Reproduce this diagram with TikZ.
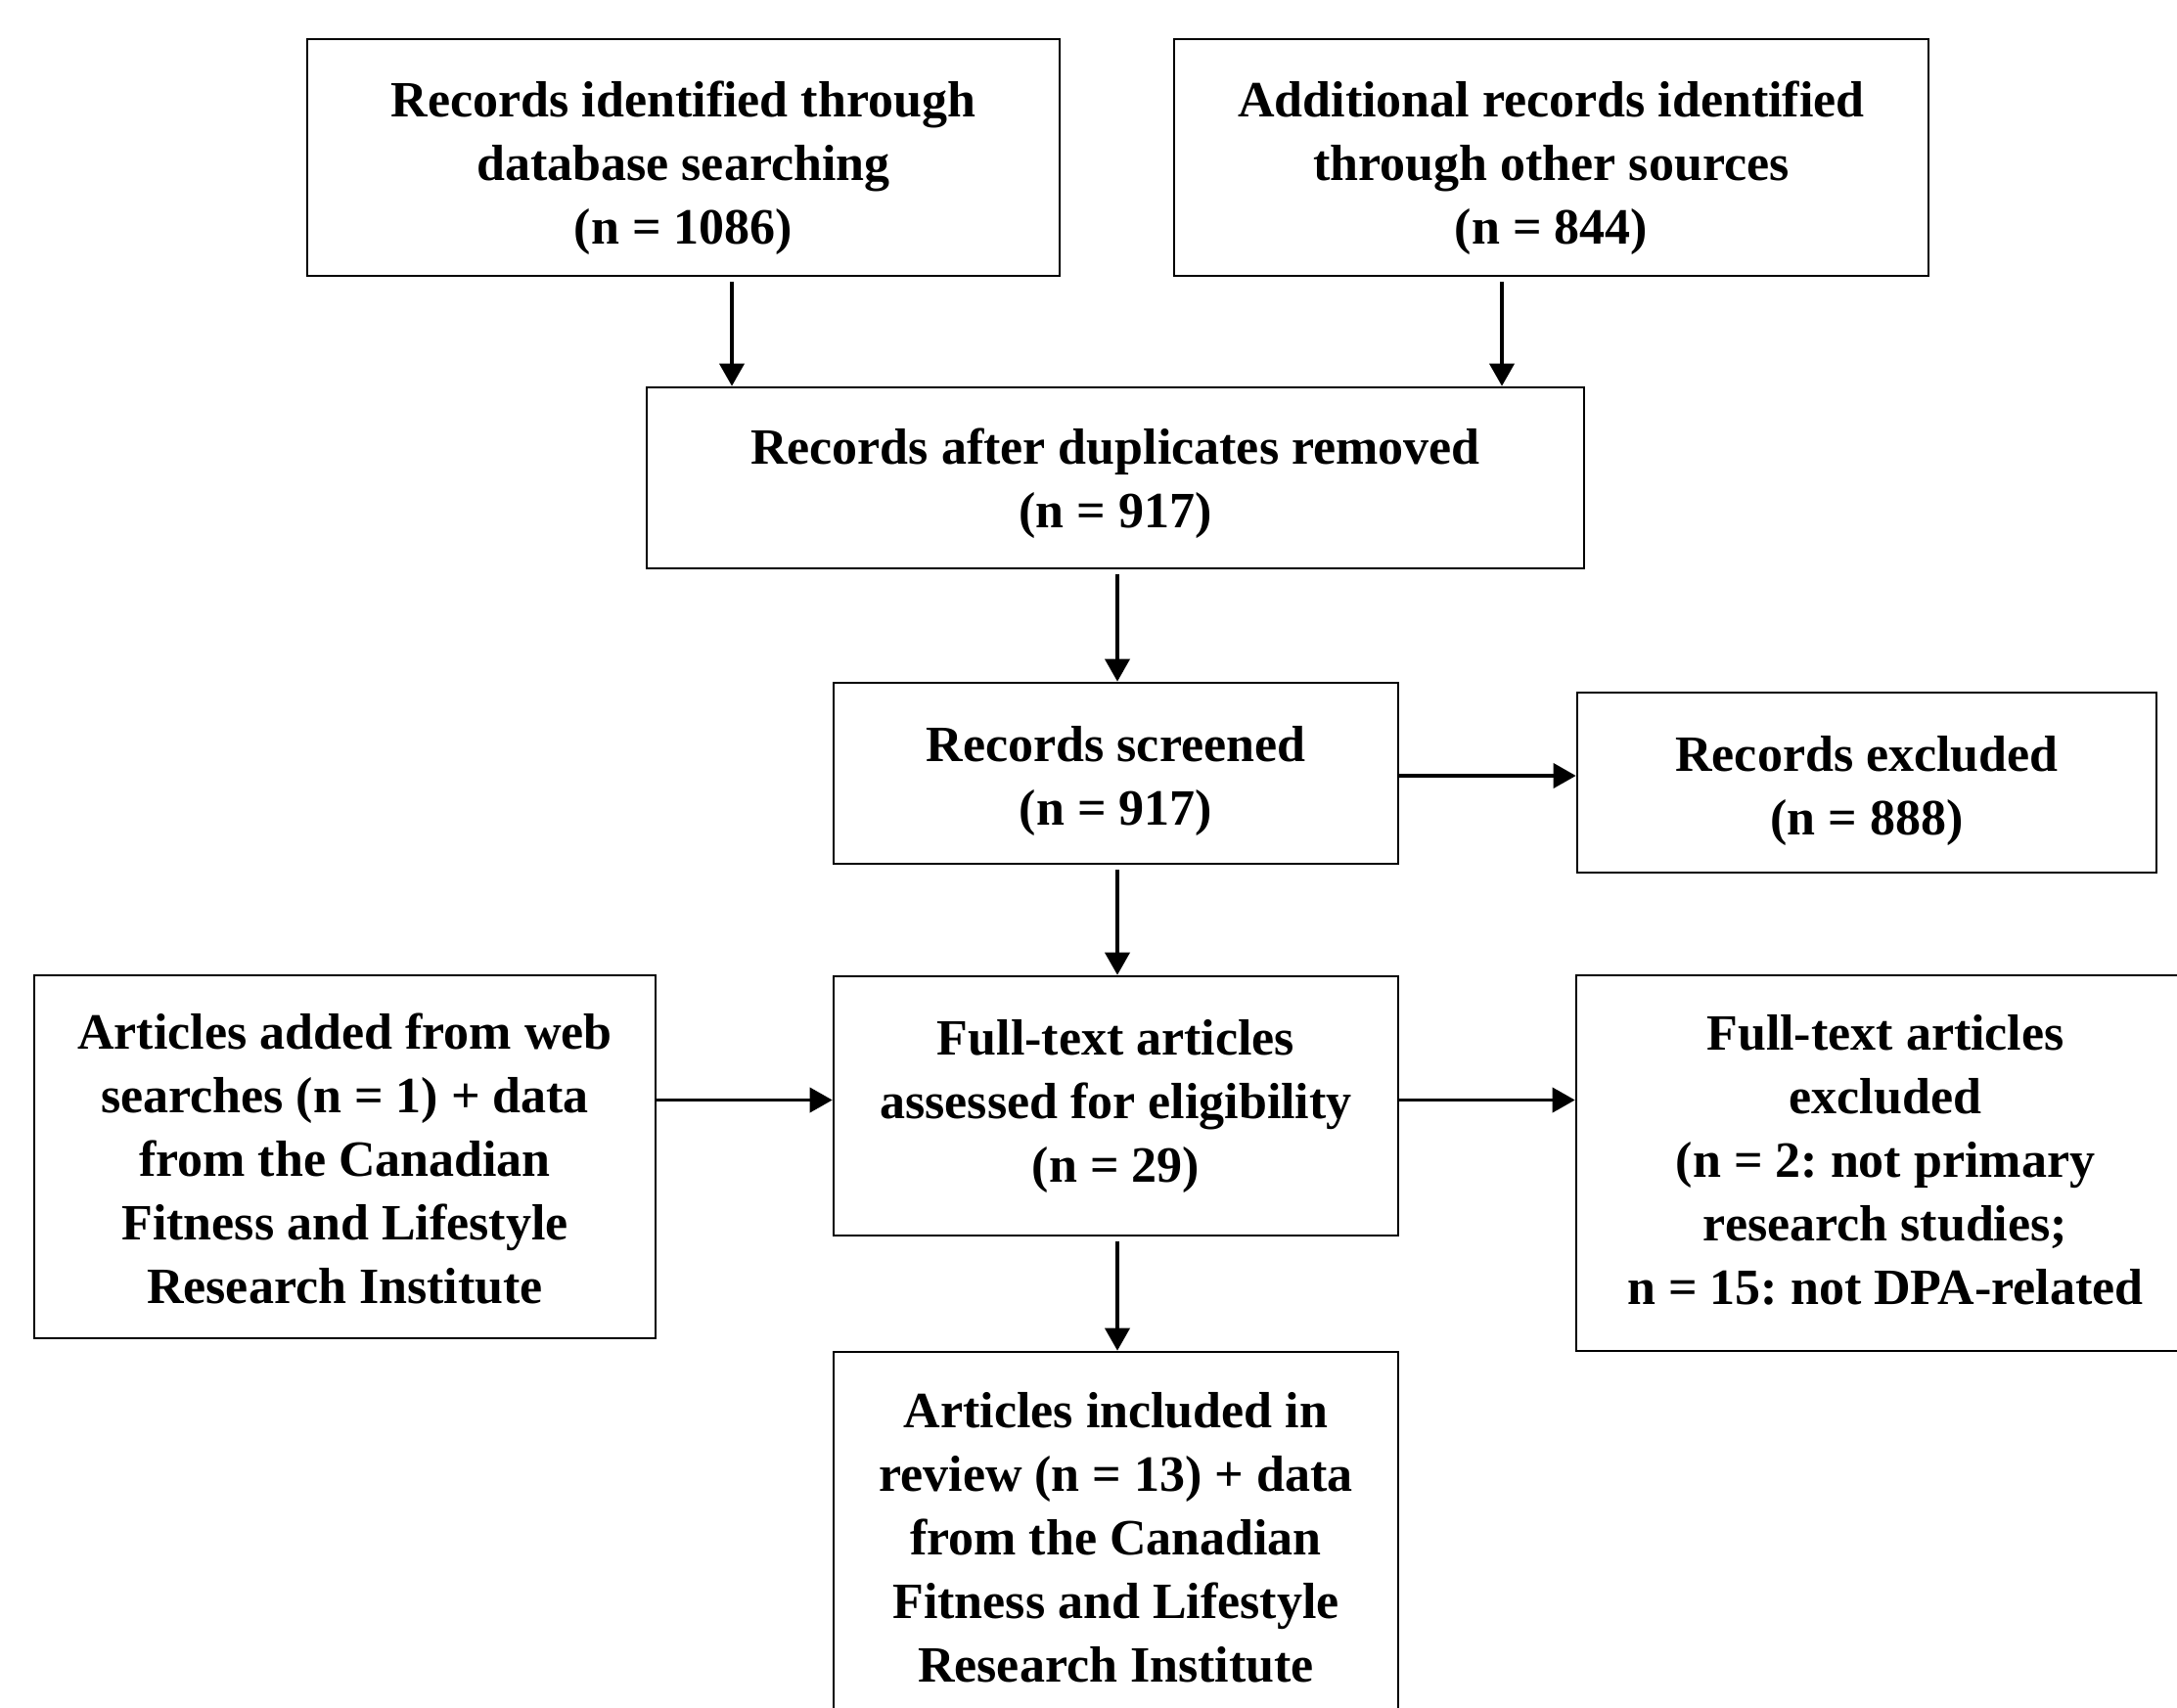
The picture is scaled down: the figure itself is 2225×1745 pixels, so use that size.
\documentclass[tikz,border=0pt]{standalone}
\usepackage{fontspec}
\setmainfont{Liberation Serif}
\usetikzlibrary{arrows.meta}
\frenchspacing
\newcommand{\lowerby}[2]{\raisebox{-#1}[\height][\depth]{\begin{tabular}{@{}c@{}}#2\end{tabular}}}
\begin{document}
\begin{tikzpicture}[x=0.5pt,y=-0.5pt,
  box/.style={draw=black, line width=1.3pt, inner sep=0pt, align=center,
    font=\fontsize{26pt}{32.5pt}\selectfont\bfseries\frenchspacing},
  arr/.style={line width=1.9pt, -{Triangle[length=11.5pt,width=12.5pt]}}]
\useasboundingbox (0,0) rectangle (2225,1745);
\clip (0,0) rectangle (2225,1745);
\fill[white] (0,0) rectangle (2225,1745);

\node[box, minimum width=384.5pt, minimum height=121pt] (b1) at (698.5,161)
  {\lowerby{5.3pt}{Records identified through\\database searching\\(n = 1086)}};
\node[box, minimum width=385.5pt, minimum height=121pt] (b2) at (1585.5,161)
  {\lowerby{5.3pt}{Additional records identified\\through other sources\\(n = 844)}};
\node[box, minimum width=479pt, minimum height=92.5pt] (b3) at (1140,488.5)
  {\lowerby{2.8pt}{Records after duplicates removed\\(n = 917)}};
\node[box, minimum width=288.5pt, minimum height=92.5pt] (b4) at (1140.5,790.5)
  {\lowerby{3.9pt}{Records screened\\(n = 917)}};
\node[box, minimum width=296pt, minimum height=92pt] (b5) at (1908,800)
  {\lowerby{4.2pt}{Records excluded\\(n = 888)}};
\node[box, minimum width=288.5pt, minimum height=132.5pt] (b6) at (1140.5,1130.5)
  {\lowerby{0pt}{Full-text articles\\assessed for eligibility\\(n = 29)}};
\node[box, minimum width=317.5pt, minimum height=185.5pt] (b7) at (352.5,1182.5)
  {\lowerby{3.5pt}{Articles added from web\\searches (n = 1) + data\\from the Canadian\\Fitness and Lifestyle\\Research Institute}};
\node[box, minimum width=316pt, minimum height=192pt] (b8) at (1927,1189)
  {\lowerby{0.7pt}{Full-text articles\\excluded\\(n = 2: not primary\\research studies;\\n = 15: not DPA-related}};
\node[box, minimum width=288.5pt, minimum height=192pt] (b9) at (1140.5,1574)
  {\lowerby{1.3pt}{Articles included in\\review (n = 13) + data\\from the Canadian\\Fitness and Lifestyle\\Research Institute}};

\draw[arr] ([xshift=24.75pt,yshift=-2.5pt]b1.south) -- ([xshift=24.75pt]b1.south |- b3.north);
\draw[arr] ([xshift=-25.25pt,yshift=-2.5pt]b2.south) -- ([xshift=-25.25pt]b2.south |- b3.north);
\draw[arr] ([xshift=1pt,yshift=-2.5pt]b3.south) -- ([xshift=0.75pt]b4.north);
\draw[arr] ([xshift=0.75pt,yshift=-2.5pt]b4.south) -- ([xshift=0.75pt]b6.north);
\draw[arr] ([xshift=0.75pt,yshift=-2.5pt]b6.south) -- ([xshift=0.75pt]b9.north);
\draw[arr] ([yshift=-1.25pt]b4.east) -- ([yshift=-1.25pt]b4.east -| b5.west);
\draw[arr] ([yshift=3pt]b7.east |- b6.east) -- ([yshift=3pt]b6.west);
\draw[arr] ([yshift=3pt]b6.east) -- ([yshift=3pt]b6.east -| b8.west);
\end{tikzpicture}
\end{document}
